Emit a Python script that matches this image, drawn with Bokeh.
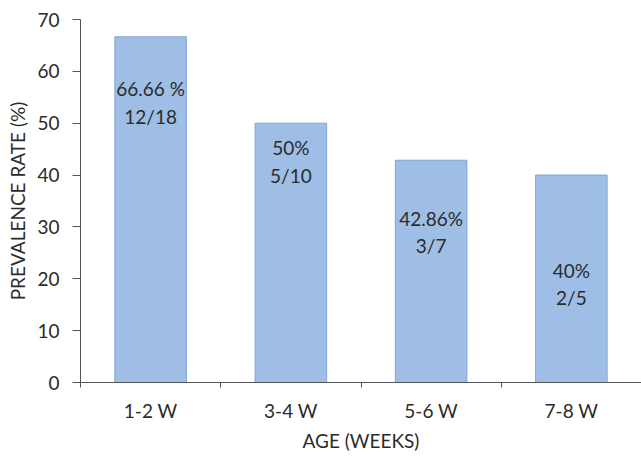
from bokeh.plotting import figure
from bokeh.models import ColumnDataSource, Range1d, FixedTicker
from bokeh.embed import file_html
from bokeh.resources import INLINE
from bokeh.core.properties import value

# ---- data ----
categories = ["1-2 W", "3-4 W", "5-6 W", "7-8 W"]
prevalence = [66.66, 50, 42.86, 40]
pct_labels = ["66.66 %", "50%", "42.86%", "40%"]
ratio_labels = ["12/18", "5/10", "3/7", "2/5"]
label_pos = [54, 42.6, 29, 19]  # vertical centre of label text (data units)
y_ticks = [0, 10, 20, 30, 40, 50, 60, 70]

FONT = "Lato"
TXT = "#2b2b2b"
AX = "#555555"

xs = [i + 0.5 for i in range(len(categories))]
src = ColumnDataSource(dict(
    x=xs, top=prevalence,
    lab=[f"{a}\n{b}" for a, b in zip(pct_labels, ratio_labels)],
    ly=label_pos,
))

p = figure(width=641, height=459, output_backend="svg", toolbar_location=None,
           x_range=Range1d(0, len(categories)), y_range=Range1d(0, 70),
           min_border_left=80, min_border_top=19, min_border_bottom=77,
           min_border_right=0)
p.outline_line_color = None
p.xgrid.visible = False
p.ygrid.visible = False

p.vbar(x="x", top="top", width=0.51, bottom=0, source=src,
       fill_color="#9fbee6", line_color="#7fa5d5", line_width=1)

p.text(x="x", y="ly", text="lab", source=src, text_align="center",
       text_baseline="middle", text_font=value(FONT), text_font_size="19px",
       text_color=TXT, text_line_height=1.2)

# x axis
p.xaxis.ticker = FixedTicker(ticks=xs, minor_ticks=list(range(len(categories) + 1)))
p.xaxis.major_label_overrides = {x: c for x, c in zip(xs, categories)}
p.xaxis.major_tick_line_color = None
p.xaxis.major_tick_out = 0
p.xaxis.major_tick_in = 0
p.xaxis.minor_tick_line_color = AX
p.xaxis.minor_tick_out = 5
p.xaxis.minor_tick_in = 0
p.xaxis.axis_line_color = AX
p.xaxis.major_label_standoff = 11
p.xaxis.axis_label = "AGE (WEEKS)"
p.xaxis.axis_label_standoff = 4

# y axis
p.yaxis.ticker = FixedTicker(ticks=y_ticks)
p.yaxis.minor_tick_line_color = None
p.yaxis.major_tick_line_color = AX
p.yaxis.major_tick_out = 8
p.yaxis.major_tick_in = 0
p.yaxis.axis_line_color = AX
p.yaxis.major_label_standoff = 13
p.yaxis.axis_label = "PREVALENCE RATE (%)"
p.yaxis.axis_label_standoff = 5

for ax in (p.xaxis, p.yaxis):
    ax.major_label_text_font = FONT
    ax.major_label_text_font_size = "19px"
    ax.major_label_text_color = TXT
    ax.axis_label_text_font = FONT
    ax.axis_label_text_font_size = "19px"
    ax.axis_label_text_font_style = "normal"
    ax.axis_label_text_color = TXT

open("out.html", "w").write(file_html(p, INLINE))
